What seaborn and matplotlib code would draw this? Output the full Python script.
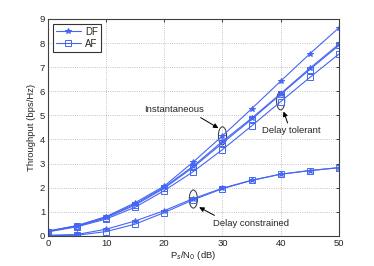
import numpy as np
import pandas as pd
import matplotlib
matplotlib.use("Agg")
import matplotlib.pyplot as plt
from matplotlib.patches import Ellipse
import seaborn as sns

# SNR points (dB)
snr = [0, 5, 10, 15, 20, 25, 30, 35, 40, 45, 50]

# throughput (bps/Hz)
df_inst = [0.20, 0.43, 0.80, 1.38, 2.07, 3.07, 4.15, 5.27, 6.42, 7.55, 8.63]
df_tol = [0.20, 0.42, 0.78, 1.32, 2.02, 2.90, 3.92, 4.88, 5.90, 6.95, 7.95]
df_con = [0.03, 0.06, 0.28, 0.62, 1.05, 1.55, 1.98, 2.31, 2.56, 2.71, 2.83]
af_inst = [0.18, 0.40, 0.75, 1.28, 1.98, 2.85, 3.85, 4.83, 5.87, 6.90, 7.90]
af_tol = [0.17, 0.38, 0.70, 1.19, 1.88, 2.67, 3.58, 4.56, 5.57, 6.57, 7.54]
af_con = [0.01, 0.03, 0.18, 0.49, 0.97, 1.50, 1.96, 2.30, 2.56, 2.71, 2.83]

sns.set_style("white")
plt.rcParams['font.family'] = ['Liberation Sans', 'DejaVu Sans']

fig = plt.figure(figsize=(3.74, 2.66), dpi=100)
ax = fig.add_axes([0.128, 0.113, 0.778, 0.816])

blue = '#4566f2'
series = [(df_inst, '*', 'DF'), (df_tol, '*', None), (df_con, '*', None),
          (af_inst, 's', 'AF'), (af_tol, 's', None), (af_con, 's', None)]
handles = {}
for vals, mk, lab in series:
    d = pd.DataFrame({'snr': snr, 'thr': vals})
    sns.lineplot(data=d, x='snr', y='thr', ax=ax, color=blue, lw=0.8,
                 marker=mk, markersize=4,
                 markerfacecolor='none' if mk == 's' else blue,
                 markeredgecolor=blue, markeredgewidth=0.7, legend=False)
    if lab:
        handles[lab] = ax.lines[-1]

leg = ax.legend([handles['DF'], handles['AF']], ['DF', 'AF'], loc='upper left',
                fontsize=7, frameon=True, fancybox=False, handlelength=2.6,
                borderpad=0.3, labelspacing=0.2, handletextpad=0.4)
leg.get_frame().set_edgecolor('black')
leg.get_frame().set_linewidth(0.8)

ax.set_xlim(0, 50)
ax.set_ylim(0, 9)
ax.set_xticks(range(0, 51, 10))
ax.set_yticks(range(0, 10))
ax.grid(True, linestyle=':', color='#b0b0b0', linewidth=0.6)
ax.tick_params(direction='in', top=True, right=True, labelsize=6.8,
               length=2.5, width=0.6, pad=2)
for s in ax.spines.values():
    s.set_color('#404040')
    s.set_linewidth(0.8)

ax.set_xlabel(r'P$_s$/N$_0$ (dB)', fontsize=6.8, labelpad=1)
ax.set_ylabel('Throughput (bps/Hz)', fontsize=6.8, labelpad=3)

# ellipses and annotations
for cx, cy in [(30, 4.15), (40, 5.6), (25, 1.53)]:
    ax.add_patch(Ellipse((cx, cy), 1.4, 0.75, fill=False, edgecolor='#303030', lw=0.7))

ap = dict(arrowstyle='-|>', color='black', lw=0.7, mutation_scale=7)
ax.annotate('Instantaneous', xy=(29.3, 4.47), xytext=(21.7, 5.23), fontsize=6.8,
            ha='center', va='center', arrowprops=dict(ap, shrinkA=0, shrinkB=0,
            relpos=(0.85, 0)))
ax.annotate('Delay tolerant', xy=(40.5, 5.16), xytext=(41.9, 4.36), fontsize=6.8,
            ha='center', va='center', arrowprops=dict(ap, shrinkA=0, shrinkB=0,
            relpos=(0.45, 1)))
ax.annotate('Delay constrained', xy=(26.0, 1.19), xytext=(34.9, 0.53), fontsize=6.8,
            ha='center', va='center', arrowprops=dict(ap, shrinkA=0, shrinkB=0,
            relpos=(0.1, 1)))

fig.savefig('out.png', dpi=100)
